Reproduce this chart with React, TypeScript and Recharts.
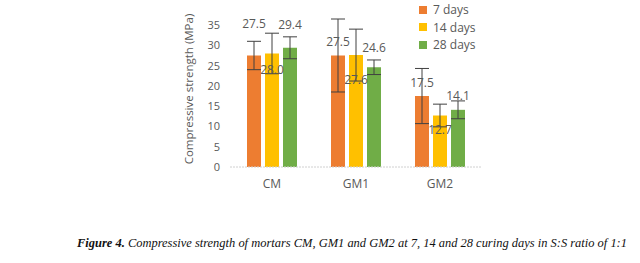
import { BarChart, Bar, XAxis, YAxis, ErrorBar, LabelList } from "recharts";

const mortars = ["CM", "GM1", "GM2"];
const days7 = [27.5, 27.5, 17.5];
const days14 = [28.0, 27.6, 12.7];
const days28 = [29.4, 24.6, 14.1];
const err7 = [3.5, 9.0, 6.8];
const err14 = [5.0, 6.4, 2.8];
const err28 = [2.7, 1.8, 2.2];
const yTicks = [0, 5, 10, 15, 20, 25, 30, 35];

// label nudges (px from bar top), the source figure had hand-moved labels
const shift7 = [-32, -14, -14];
const shift14 = [16, 24, 14];
const shift28 = [-23, -20, -14];

const data = mortars.map((m, i) => ({
  name: m,
  d7: days7[i],
  d14: days14[i],
  d28: days28[i],
  e7: err7[i],
  e14: err14[i],
  e28: err28[i],
}));

const series = [
  { key: "d7", err: "e7", label: "7 days", color: "#ED7D31", shift: shift7 },
  { key: "d14", err: "e14", label: "14 days", color: "#FFC000", shift: shift14 },
  { key: "d28", err: "e28", label: "28 days", color: "#70AD47", shift: shift28 },
];

const font = "'Open Sans', 'Liberation Sans', sans-serif";

const makeLabel = (shift: number[]) => (p: any) => {
  const { x, y, width, value, index } = p;
  return (
    <text
      x={x + width / 2}
      y={y + shift[index]}
      textAnchor="middle"
      dominantBaseline="central"
      fill="#595959"
      fontSize={12}
      fontFamily={font}
    >
      {Number(value).toFixed(1)}
    </text>
  );
};

const AxisTitle = (p: any) => {
  const { viewBox } = p;
  const cx = viewBox.x + 28;
  const cy = viewBox.y + viewBox.height / 2 - 4;
  return (
    <text
      x={cx}
      y={cy}
      transform={`rotate(-90 ${cx} ${cy})`}
      textAnchor="middle"
      dominantBaseline="central"
      fill="#595959"
      fontSize={11.5}
      fontFamily={font}
    >
      Compressive strength (MPa)
    </text>
  );
};

export default function App() {
  return (
    <div style={{ position: "absolute", left: 0, top: 0, width: 640, height: 263, background: "#fff" }}>
      <BarChart
        width={640}
        height={225}
        data={data}
        margin={{ top: 19, right: 158, bottom: 28, left: 160 }}
        barCategoryGap="20%"
        barGap={4}
      >
        <XAxis
          dataKey="name"
          axisLine={{ stroke: "#d0d0d0", strokeDasharray: "2 1" }}
          tickLine={false}
          tick={{ fontSize: 12, fill: "#595959", fontFamily: font }}
          tickMargin={6}
        />
        <YAxis
          domain={[0, 35]}
          ticks={yTicks}
          width={70}
          axisLine={false}
          tickLine={false}
          tick={{ fontSize: 11, fill: "#595959", fontFamily: font }}
          tickMargin={4}
          label={<AxisTitle />}
        />
        {series.map((s) => (
          <Bar key={s.key} dataKey={s.key} fill={s.color} barSize={14} isAnimationActive={false}>
            <ErrorBar dataKey={s.err} width={7} stroke="#404040" strokeWidth={1} direction="y" />
            <LabelList dataKey={s.key} content={makeLabel(s.shift)} />
          </Bar>
        ))}
      </BarChart>
      <div style={{ position: "absolute", left: 419, top: 1, fontFamily: font, fontSize: 12, color: "#595959" }}>
        {series.map((s) => (
          <div key={s.key} style={{ display: "flex", alignItems: "center", height: 17.5 }}>
            <span style={{ width: 8, height: 8, background: s.color, marginRight: 6, display: "inline-block" }} />
            {s.label}
          </div>
        ))}
      </div>
      <svg width={640} height={38} style={{ position: "absolute", left: 0, top: 225 }}>
        <text
          x={77}
          y={18}
          dominantBaseline="central"
          textLength={550}
          lengthAdjust="spacingAndGlyphs"
          fontFamily="'Liberation Serif', serif"
          fontStyle="italic"
          fontSize={12.8}
          fill="#111"
        >
          <tspan fontWeight="bold">Figure 4.</tspan> Compressive strength of mortars CM, GM1 and GM2 at 7, 14 and 28 curing days in S:S ratio of 1:1
        </text>
      </svg>
    </div>
  );
}
